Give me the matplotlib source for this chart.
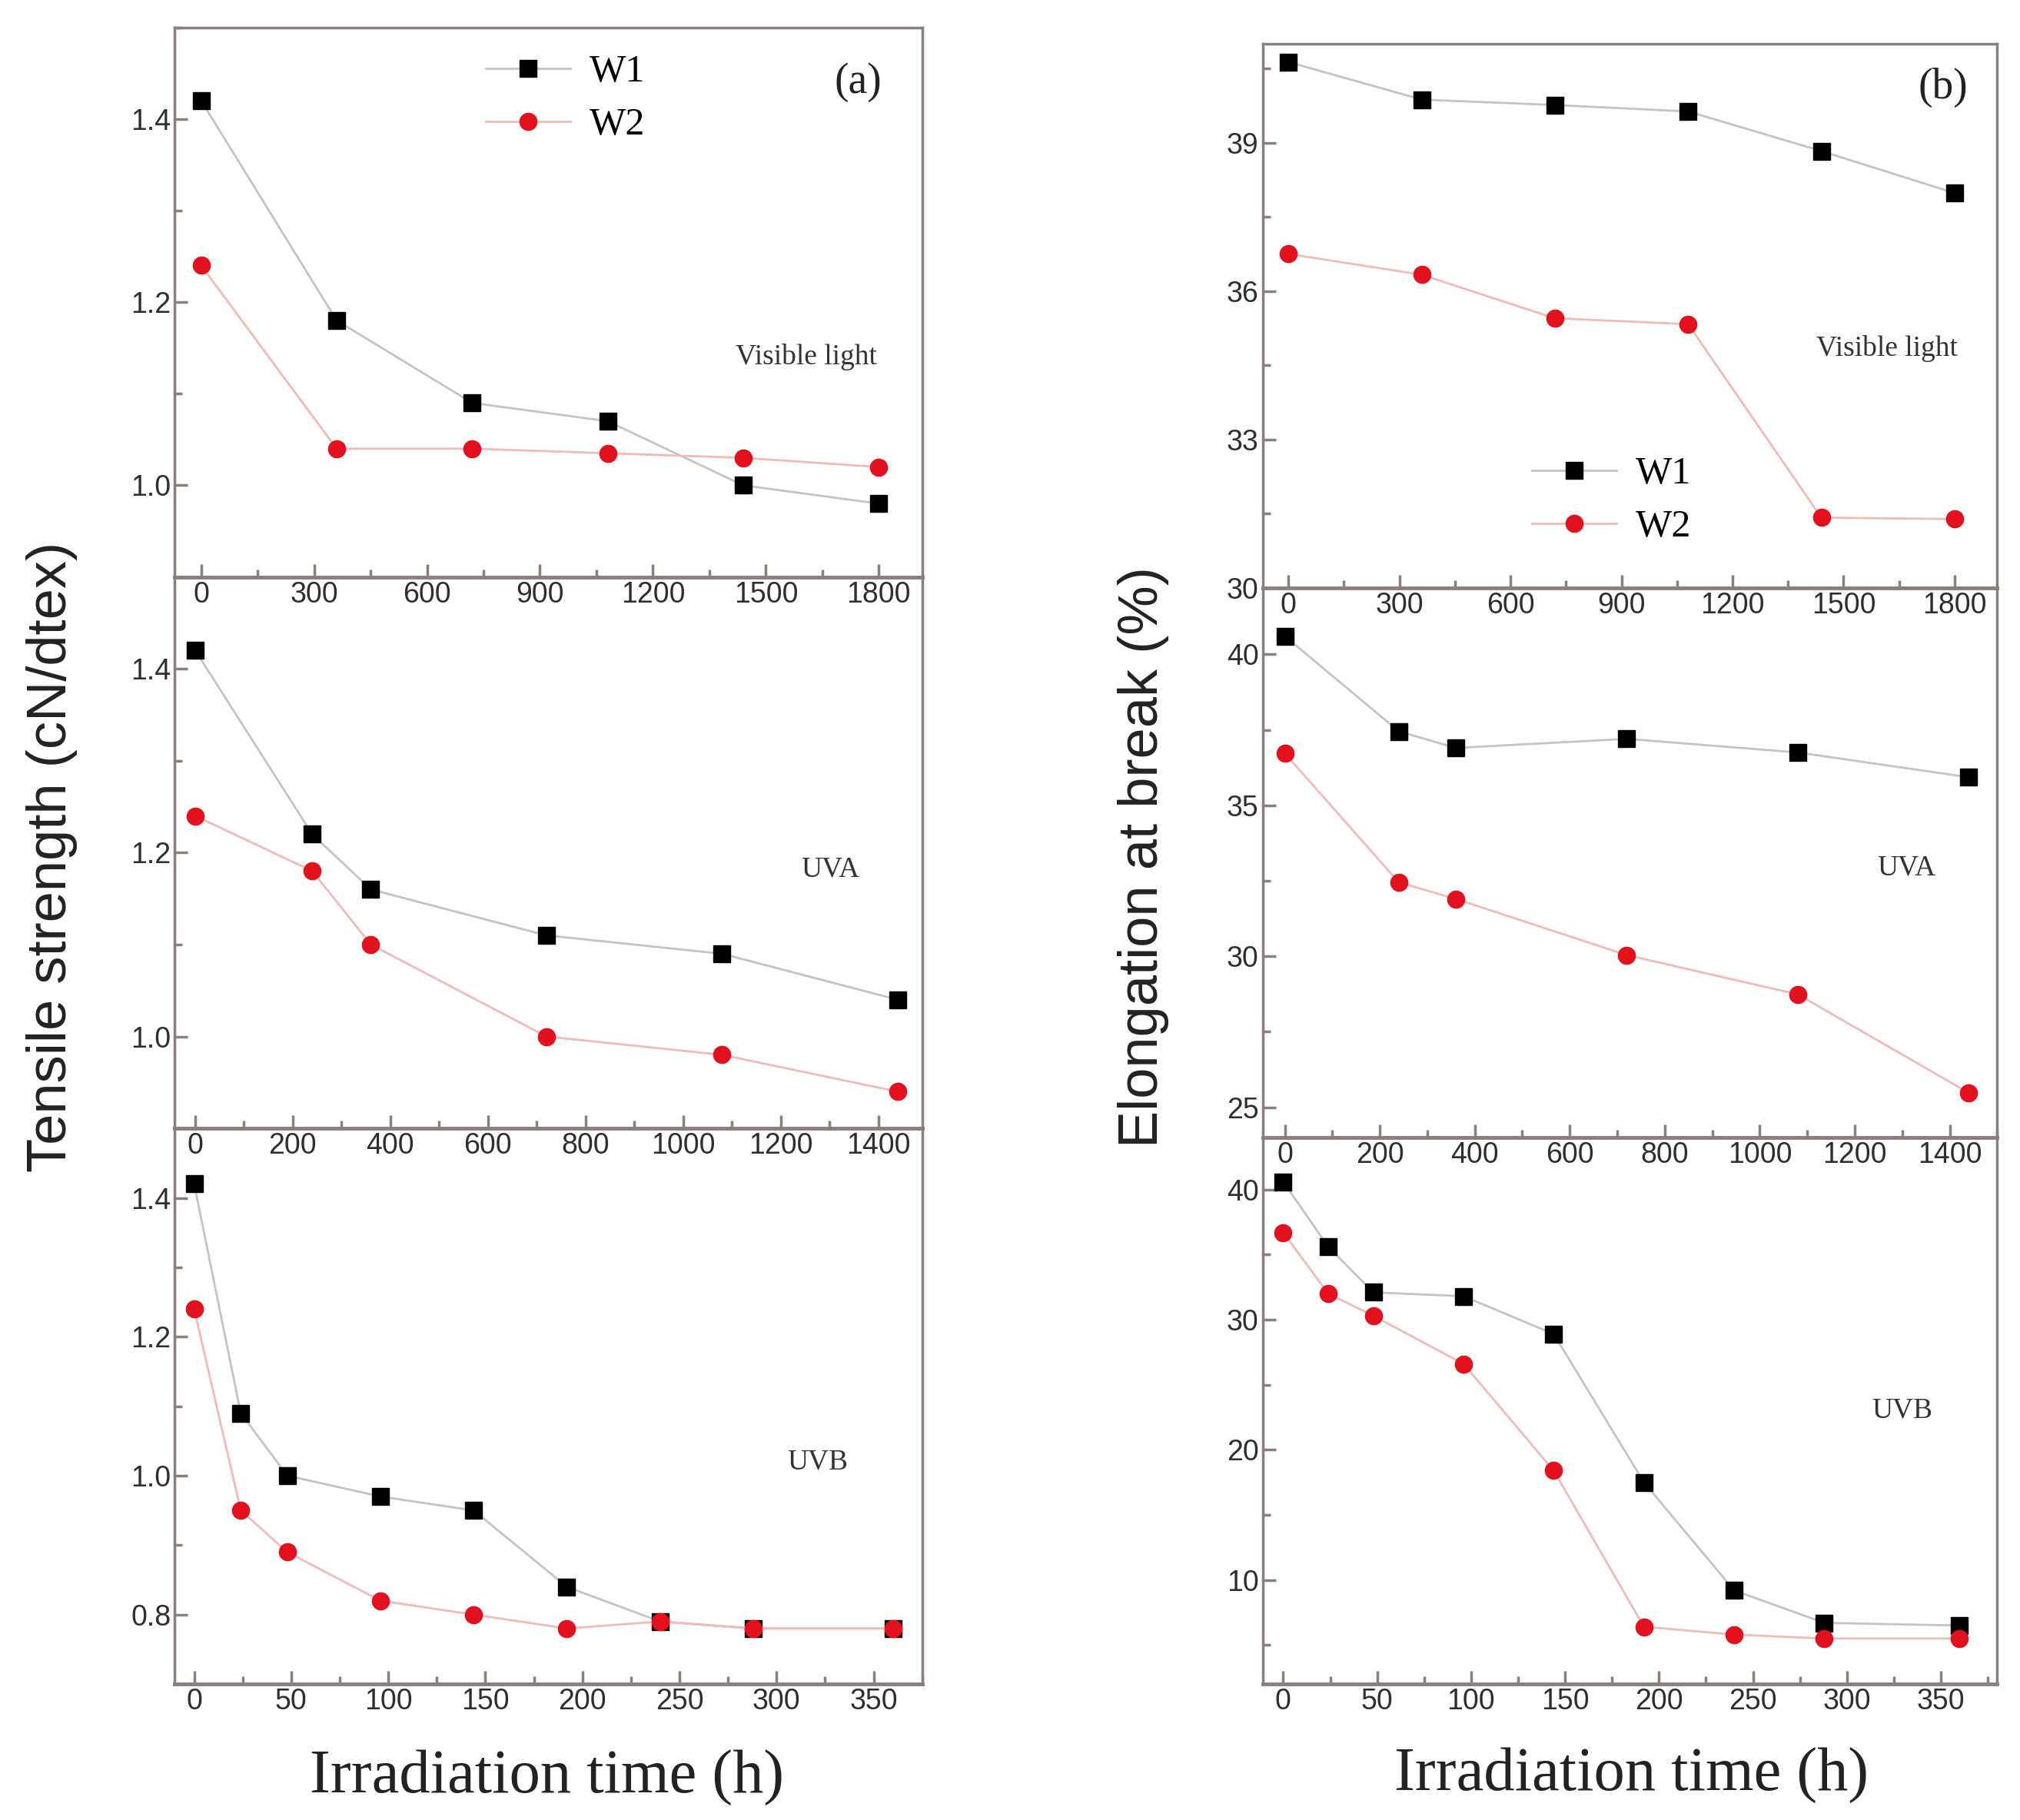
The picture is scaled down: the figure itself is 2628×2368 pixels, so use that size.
import matplotlib
matplotlib.use("Agg")
import matplotlib.pyplot as plt
from matplotlib.ticker import MultipleLocator, FormatStrFormatter

# irradiation times (h)
t_vis = [0, 360, 720, 1080, 1440, 1800]
t_uva = [0, 240, 360, 720, 1080, 1440]
t_uvb = [0, 24, 48, 96, 144, 192, 240, 288, 360]

# (a) tensile strength, cN/dtex
ts_vis_w1 = [1.42, 1.18, 1.09, 1.07, 1.00, 0.98]
ts_vis_w2 = [1.24, 1.04, 1.04, 1.035, 1.03, 1.02]
ts_uva_w1 = [1.42, 1.22, 1.16, 1.11, 1.09, 1.04]
ts_uva_w2 = [1.24, 1.18, 1.10, 1.00, 0.98, 0.94]
ts_uvb_w1 = [1.42, 1.09, 1.00, 0.97, 0.95, 0.84, 0.79, 0.78, 0.78]
ts_uvb_w2 = [1.24, 0.95, 0.89, 0.82, 0.80, 0.78, 0.79, 0.78, 0.78]

# (b) elongation at break, %
el_vis_w1 = [40.63, 39.87, 39.76, 39.63, 38.83, 37.98]
el_vis_w2 = [36.75, 36.33, 35.45, 35.33, 31.42, 31.39]
el_uva_w1 = [40.6, 37.45, 36.9, 37.2, 36.75, 35.93]
el_uva_w2 = [36.72, 32.45, 31.9, 30.04, 28.74, 25.48]
el_uvb_w1 = [40.6, 35.6, 32.1, 31.8, 28.9, 17.5, 9.2, 6.7, 6.5]
el_uvb_w2 = [36.7, 32.0, 30.3, 26.6, 18.4, 6.4, 5.8, 5.5, 5.5]

SPINE = "#8a7f7c"
LINE1 = "#c9c2c2"
LINE2 = "#f2b9b9"
RED = "#e3101e"
SERIF = ["Liberation Serif", "DejaVu Serif"]
SANS = ["Liberation Sans", "DejaVu Sans"]

fig = plt.figure(figsize=(26.28, 23.68), dpi=100)


def panel(rect, t, w1, w2, xlim, ylim, xmaj, ymaj, label, lab_xy):
    ax = fig.add_axes(rect)
    ax.set_facecolor("none")
    ax.plot(t, w1, color=LINE1, lw=2, marker="s", ms=16, mfc="black",
            mec="black", label="W1", zorder=2)
    ax.plot(t, w2, color=LINE2, lw=2, marker="o", ms=16, mfc=RED,
            mec=RED, label="W2", zorder=3)
    ax.set_xlim(*xlim)
    ax.set_ylim(*ylim)
    ax.xaxis.set_major_locator(MultipleLocator(xmaj))
    ax.xaxis.set_minor_locator(MultipleLocator(xmaj / 2))
    ax.yaxis.set_major_locator(MultipleLocator(ymaj))
    ax.yaxis.set_minor_locator(MultipleLocator(ymaj / 2))
    ax.tick_params(which="both", direction="in", color=SPINE, width=2.5,
                   labelsize=27, labelcolor="#2e2e2e", top=False, right=False)
    ax.tick_params(which="major", length=12)
    ax.tick_params(which="minor", length=7)
    for lbl in ax.get_xticklabels() + ax.get_yticklabels():
        lbl.set_family(SANS)
    for s in ax.spines.values():
        s.set_color(SPINE)
        s.set_linewidth(2.5)
    ax.spines["bottom"].set_linewidth(3.5)
    ax.text(lab_xy[0], lab_xy[1], label, transform=ax.transAxes,
            family=SERIF, fontsize=27, color="#333333", ha="center", va="center")
    return ax


# left column: tensile strength
a1 = panel([0.0865, 0.683, 0.370, 0.302], t_vis, ts_vis_w1, ts_vis_w2,
           (-70, 1915), (0.9, 1.5), 300, 0.2, "Visible light", (0.845, 0.40))
a2 = panel([0.0865, 0.380, 0.370, 0.303], t_uva, ts_uva_w1, ts_uva_w2,
           (-42, 1490), (0.9, 1.5), 200, 0.2, "UVA", (0.877, 0.47))
a3 = panel([0.0865, 0.0747, 0.370, 0.3053], t_uvb, ts_uvb_w1, ts_uvb_w2,
           (-10, 375), (0.7, 1.5), 50, 0.2, "UVB", (0.86, 0.40))
for ax in (a1, a2, a3):
    ax.yaxis.set_major_formatter(FormatStrFormatter("%.1f"))

# right column: elongation at break
b1 = panel([0.625, 0.677, 0.3637, 0.299], t_vis, el_vis_w1, el_vis_w2,
           (-70, 1915), (30, 41), 300, 3, "Visible light", (0.85, 0.44))
b2 = panel([0.625, 0.375, 0.3637, 0.302], t_uva, el_uva_w1, el_uva_w2,
           (-47, 1500), (24, 42.2), 200, 5, "UVA", (0.877, 0.49))
b3 = panel([0.625, 0.0747, 0.3637, 0.3003], t_uvb, el_uvb_w1, el_uvb_w2,
           (-11, 380), (2, 44), 50, 10, "UVB", (0.871, 0.50))

a1.text(0.914, 0.90, "(a)", transform=a1.transAxes, family=SERIF,
        fontsize=40, ha="center", va="center", color="#222222")
b1.text(0.926, 0.92, "(b)", transform=b1.transAxes, family=SERIF,
        fontsize=40, ha="center", va="center", color="#222222")

a1.legend(loc="center left", bbox_to_anchor=(0.37, 0.87), frameon=False,
          prop={"family": SERIF, "size": 36}, handlelength=2.2,
          labelspacing=0.45, handletextpad=0.5)
b1.legend(loc="center left", bbox_to_anchor=(0.32, 0.16), frameon=False,
          prop={"family": SERIF, "size": 36}, handlelength=2.2,
          labelspacing=0.45, handletextpad=0.5)

fig.text(0.0255, 0.529, "Tensile strength (cN/dtex)", rotation=90,
         family=SANS, fontsize=52, ha="center", va="center", color="#222222")
fig.text(0.566, 0.529, "Elongation at break (%)", rotation=90,
         family=SANS, fontsize=52, ha="center", va="center", color="#222222")
fig.text(0.2706, 0.0232, "Irradiation time (h)", family=SERIF,
         fontsize=58, ha="center", va="center", color="#222222")
fig.text(0.8075, 0.0245, "Irradiation time (h)", family=SERIF,
         fontsize=58, ha="center", va="center", color="#222222")

fig.savefig("out.png", dpi=100, facecolor="white")
